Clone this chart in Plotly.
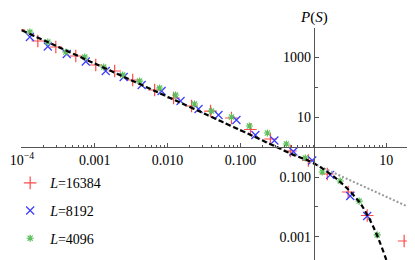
import plotly.graph_objects as go

# ---- data ----
S_16384 = [9.0e-5, 1.656e-4, 2.924e-4, 5.495e-4, 1.033e-3, 1.879e-3, 3.319e-3, 6.637e-3,
           0.01208, 0.02133, 0.03882, 0.07534, 0.1371, 0.2576, 0.4842, 0.855, 1.556,
           3.013, 5.495, 17.66]
P_16384 = [8000, 3412, 2153, 1080, 541, 341, 171, 79.4, 43.0, 23.3, 15.8, 9.27, 3.83,
           1.85, 0.736, 0.355, 0.126, 0.0316, 0.00521, 7.36e-4]

S_8192 = [1.288e-4, 2.270e-4, 4.130e-4, 7.534e-4, 1.416e-3, 2.495e-3, 4.406e-3, 8.279e-3,
          0.01507, 0.02661, 0.05000, 0.08810, 0.1603, 0.2924, 0.5321, 0.968, 1.710,
          3.214, 5.495]
P_8192 = [4645, 2239, 1259, 708, 341, 215, 117, 73.6, 34.1, 18.5, 11.7, 7.94, 2.51, 1.65,
          0.708, 0.355, 0.117, 0.0233, 0.00501]

S_4096 = [1.288e-4, 2.270e-4, 4.009e-4, 7.295e-4, 1.327e-3, 2.421e-3, 4.130e-3, 7.762e-3,
          0.01288, 0.02344, 0.04009, 0.07534, 0.1327, 0.2344, 0.4266, 0.7762, 1.327,
          2.344, 4.266, 7.534]
P_4096 = [6810, 3162, 1469, 1000, 464, 251, 158, 92.7, 54.1, 27.1, 15.8, 10.0, 5.01, 2.93,
          1.26, 0.430, 0.147, 0.0736, 0.0158, 0.00117]

# fitted curve with cutoff (black dashed) and pure power law (grey dotted)
S_fit = [1e-4, 0.1, 0.5, 1.0, 2.19, 4.17, 5.62, 7.76, 10.7, 11.8]
P_fit = [7762, 3.63, 0.59, 0.29, 0.079, 0.0158, 0.0050, 0.00093, 1.07e-4, 4.0e-5]
S_pow = [1e-4, 20]
P_pow = [7762, 0.0102]

x_tickvals = [1e-4, 1e-3, 1e-2, 0.1, 10]
x_ticktext = ["10<sup>\u22124</sup>", "0.001", "0.010", "0.100", "10"]
y_tickvals = [1000, 10, 0.1, 0.001]
y_ticktext = ["1000", "10", "0.100", "0.001"]
y_minorvals = [100, 1, 0.01, 1e-4]
x_minorvals = [m * 10 ** e for e in range(-4, 2) for m in range(1, 10) if (m, e) != (1, -4)]

FONT = "Liberation Serif"
AX = "#555555"

fig = go.Figure()
fig.add_trace(go.Scatter(x=S_16384, y=P_16384, mode="markers", name="<i>L</i>=16384",
                         legendgroup="a",
                         marker=dict(symbol="cross-thin", size=9, color="#ff4a4a",
                                     line=dict(color="#ff4a4a", width=1.2))))
fig.add_trace(go.Scatter(x=S_8192, y=P_8192, mode="markers", name="<i>L</i>=8192",
                         legendgroup="b",
                         marker=dict(symbol="x-thin", size=8, color="#3a3aff",
                                     line=dict(color="#3a3aff", width=1.2))))
fig.add_trace(go.Scatter(x=S_4096, y=P_4096, mode="markers", name="<i>L</i>=4096",
                         legendgroup="c",
                         marker=dict(symbol="asterisk", size=6, color="#5cbf5c",
                                     line=dict(color="#5cbf5c", width=1.2))))
fig.add_trace(go.Scatter(x=S_pow, y=P_pow, mode="lines", showlegend=False,
                         line=dict(color="#999999", width=2, dash="2px,2px")))
fig.add_trace(go.Scatter(x=S_fit, y=P_fit, mode="lines", showlegend=False,
                         line=dict(color="black", width=2.2, dash="5px,3px", shape="spline")))

fig.update_xaxes(type="log", range=[-4.012, 1.3], anchor="free", position=0.5,
                 showline=True, linecolor=AX, linewidth=1, showgrid=False, zeroline=False,
                 ticks="inside", ticklen=4, tickcolor=AX, tickwidth=1,
                 tickmode="array", tickvals=x_tickvals, ticktext=x_ticktext,
                 tickfont=dict(family=FONT, size=14, color="black"),
                 minor=dict(tickmode="array", tickvals=x_minorvals, ticks="inside",
                            ticklen=2, tickcolor=AX, showgrid=False))
fig.update_yaxes(type="log", range=[-3.967, 3.967], anchor="free", position=0.7564,
                 showline=True, linecolor=AX, linewidth=1, showgrid=False, zeroline=False,
                 ticks="inside", ticklen=4, tickcolor=AX, tickwidth=1,
                 tickmode="array", tickvals=y_tickvals, ticktext=y_ticktext,
                 tickfont=dict(family=FONT, size=14, color="black"),
                 minor=dict(tickmode="array", tickvals=y_minorvals, ticks="inside",
                            ticklen=3, tickcolor=AX, showgrid=False))

fig.add_annotation(text="<i>S</i>", xref="paper", yref="paper", x=1.014, y=0.505,
                   showarrow=False, font=dict(family=FONT, size=15, color="black"),
                   xanchor="center", yanchor="middle")
fig.add_annotation(text="<i>P</i>(<i>S</i>)", xref="paper", yref="paper", x=0.756, y=1.045,
                   showarrow=False, font=dict(family=FONT, size=15, color="black"),
                   xanchor="center", yanchor="middle")

fig.update_layout(width=415, height=260, margin=dict(l=11, r=15, t=20, b=2),
                  paper_bgcolor="white", plot_bgcolor="white",
                  font=dict(family=FONT, size=14, color="black"),
                  showlegend=True,
                  legend=dict(x=-0.028, y=0.415, xanchor="left", yanchor="top",
                              bgcolor="rgba(0,0,0,0)", traceorder="grouped",
                              tracegroupgap=6.5, font=dict(family=FONT, size=14)))

fig.write_html("out.html")
